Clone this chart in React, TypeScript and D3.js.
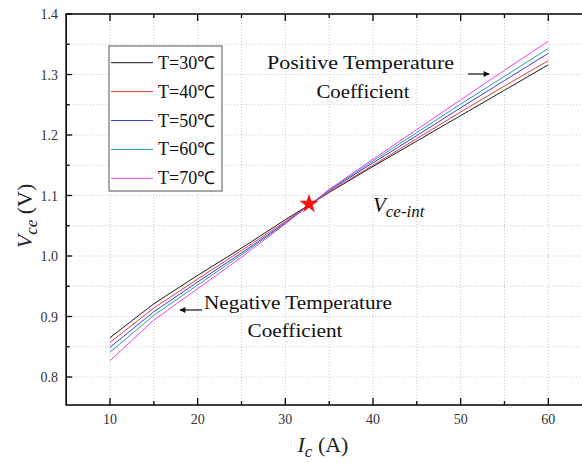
import React from 'react';
import * as d3 from 'd3';

const currents = [10, 15, 20, 25, 30, 35, 40, 45, 50, 55, 60];
const vce30 = [0.865, 0.921, 0.968, 1.013, 1.06, 1.105, 1.148, 1.19, 1.232, 1.274, 1.316];
const vce40 = [0.857, 0.914, 0.962, 1.009, 1.057, 1.106, 1.15, 1.194, 1.238, 1.281, 1.323];
const vce50 = [0.849, 0.908, 0.957, 1.005, 1.055, 1.108, 1.154, 1.199, 1.245, 1.29, 1.335];
const vce60 = [0.841, 0.902, 0.952, 1.002, 1.054, 1.109, 1.157, 1.204, 1.251, 1.297, 1.343];
const vce70 = [0.827, 0.894, 0.946, 0.998, 1.053, 1.11, 1.16, 1.209, 1.258, 1.307, 1.355];
const seriesNames = ['T=30℃', 'T=40℃', 'T=50℃', 'T=60℃', 'T=70℃'];
const seriesColors = ['#1a1a1a', '#e83a3a', '#3c3ce0', '#2a9e9e', '#f040f0'];
const crossPoint = [32.7, 1.086];
const xTicks = [10, 20, 30, 40, 50, 60];
const xMinor = [5, 15, 25, 35, 45, 55];
const yTicks = [0.8, 0.9, 1.0, 1.1, 1.2, 1.3, 1.4];
const yMinor = [0.75, 0.85, 0.95, 1.05, 1.15, 1.25, 1.35];

const App = () => {
  const width = 582;
  const height = 463;
  const x = d3.scaleLinear().domain([10, 60]).range([110, 548.3]);
  const y = d3.scaleLinear().domain([0.8, 1.4]).range([377, 14]);
  const left = x(5);
  const top = y(1.4);
  const bottom = 405;
  const right = 600;

  const allSeries = [vce30, vce40, vce50, vce60, vce70];
  const line = d3
    .line<number>()
    .x((d, i) => x(currents[i]))
    .y((d) => y(d));

  const star = d3.symbol().type(d3.symbolStar).size(115)();
  const font = '"Liberation Serif", "Times New Roman", serif';

  const gridX = [...xTicks, ...xMinor.filter((v) => v > 5)];
  const gridY = [...yTicks, ...yMinor].filter((v) => v < 1.4 && y(v) < bottom);

  return (
    <svg
      width={width}
      height={height}
      style={{ position: 'absolute', left: 0, top: 0, background: '#fff' }}
    >
      {/* grid */}
      <g stroke='#c8c8c8' strokeWidth={1} strokeDasharray='1,2'>
        {gridX.map((v) => (
          <line key={'gx' + v} x1={x(v)} x2={x(v)} y1={top} y2={bottom} />
        ))}
        {gridY.map((v) => (
          <line key={'gy' + v} x1={left} x2={right} y1={y(v)} y2={y(v)} />
        ))}
      </g>

      {/* series */}
      {allSeries.map((s, i) => (
        <path key={i} d={line(s) || ''} fill='none' stroke={seriesColors[i]} strokeWidth={1} />
      ))}

      {/* frame */}
      <g stroke='#000' strokeWidth={1.6} fill='none'>
        <line x1={left} x2={left} y1={top} y2={bottom} />
        <line x1={left - 0.8} x2={right} y1={bottom} y2={bottom} />
        <line x1={left - 0.8} x2={right} y1={top} y2={top} />
      </g>
      <g stroke='#000' strokeWidth={1.3}>
        {xTicks.map((v) => (
          <g key={'xt' + v}>
            <line x1={x(v)} x2={x(v)} y1={bottom} y2={bottom - 7} />
            <line x1={x(v)} x2={x(v)} y1={top} y2={top + 7} />
          </g>
        ))}
        {xMinor.filter((v) => v > 5).map((v) => (
          <g key={'xm' + v}>
            <line x1={x(v)} x2={x(v)} y1={bottom} y2={bottom - 4} />
            <line x1={x(v)} x2={x(v)} y1={top} y2={top + 4} />
          </g>
        ))}
        {yTicks.map((v) => (
          <line key={'yt' + v} x1={left} x2={left + 6} y1={y(v)} y2={y(v)} />
        ))}
        {yMinor.filter((v) => y(v) < bottom - 2).map((v) => (
          <line key={'ym' + v} x1={left} x2={left + 3.5} y1={y(v)} y2={y(v)} />
        ))}
      </g>

      {/* tick labels */}
      <g fontFamily={font} fontSize={14} fill='#333'>
        {xTicks.map((v) => (
          <text key={'xl' + v} x={x(v)} y={424} textAnchor='middle'>
            {v}
          </text>
        ))}
        {yTicks.map((v) => (
          <text key={'yl' + v} x={58} y={y(v) + 5} textAnchor='end'>
            {d3.format('.1f')(v)}
          </text>
        ))}
      </g>

      {/* axis titles */}
      <text x={323} y={452} textAnchor='middle' fontFamily={font} fontSize={22} fill='#222'>
        <tspan fontStyle='italic'>I</tspan>
        <tspan fontStyle='italic' fontSize={17} dy={5}>c</tspan>
        <tspan dy={-5}> (A)</tspan>
      </text>
      <text
        transform='translate(32,216) rotate(-90)'
        textAnchor='middle'
        fontFamily={font}
        fontSize={22}
        fill='#222'
      >
        <tspan fontStyle='italic'>V</tspan>
        <tspan fontStyle='italic' fontSize={17} dy={5}>ce</tspan>
        <tspan dy={-5}> (V)</tspan>
      </text>

      {/* legend */}
      <rect x={109} y={46} width={113} height={145} fill='#fff' stroke='#555' strokeWidth={1} />
      {seriesNames.map((name, i) => (
        <g key={name} transform={`translate(0,${62.7 + i * 28.9})`}>
          <line x1={111} x2={153} y1={0} y2={0} stroke={seriesColors[i]} strokeWidth={1} />
          <text x={158} y={6} fontFamily={font} fontSize={18} fill='#111'>
            {name}
          </text>
        </g>
      ))}

      {/* intersection */}
      <path
        d={star || ''}
        transform={`translate(${x(crossPoint[0])},${y(crossPoint[1])})`}
        fill='#ff1010'
      />
      <text x={373} y={212} fontFamily={font} fontSize={21} fontStyle='italic' fill='#111'>
        V<tspan fontSize={17} dy={5}>ce-int</tspan>
      </text>

      {/* annotations */}
      <defs>
        <marker id='ah' viewBox='0 0 10 10' refX={9} refY={5} markerWidth={7} markerHeight={5} orient='auto'>
          <path d='M0,0 L10,5 L0,10 Z' fill='#111' />
        </marker>
      </defs>
      <g fontFamily={font} fontSize={19} fill='#111' textAnchor='middle' lengthAdjust='spacingAndGlyphs'>
        <text x={360.5} y={69} textLength={187} lengthAdjust='spacingAndGlyphs'>Positive Temperature</text>
        <text x={363} y={98} textLength={93} lengthAdjust='spacingAndGlyphs'>Coefficient</text>
        <text x={298} y={309} textLength={188} lengthAdjust='spacingAndGlyphs'>Negative Temperature</text>
        <text x={295} y={337} textLength={95} lengthAdjust='spacingAndGlyphs'>Coefficient</text>
      </g>
      <line x1={468} x2={489} y1={74} y2={74} stroke='#111' strokeWidth={1.2} markerEnd='url(#ah)' />
      <line x1={202} x2={180} y1={310} y2={310} stroke='#111' strokeWidth={1.2} markerEnd='url(#ah)' />
    </svg>
  );
};

export default App;
